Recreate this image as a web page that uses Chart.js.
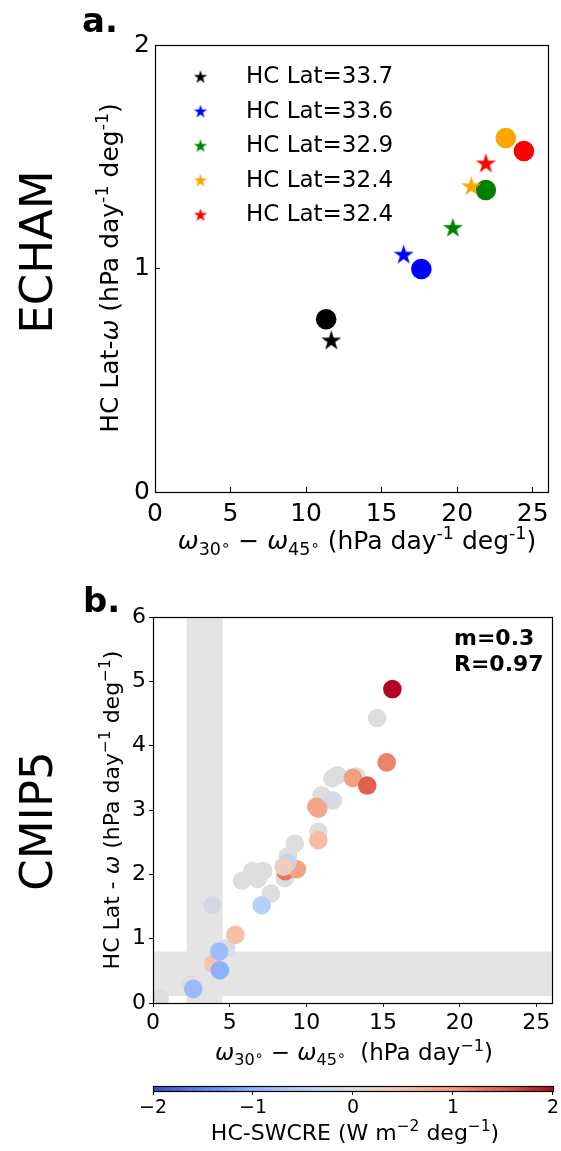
<!DOCTYPE html>
<html lang="en">
<head>
<meta charset="UTF-8">
<title>HC Lat vs omega gradient</title>
<script src="https://cdn.jsdelivr.net/npm/chart.js"></script>
<style>
  body { margin: 0; background: #fff; }
  #wrap { position: relative; width: 561px; height: 1151px; }
  canvas { position: absolute; left: 0; }
</style>
</head>
<body>
<div id="wrap">
  <canvas id="echamChart" width="561" height="570" style="top:0"></canvas>
  <canvas id="cmipChart" width="561" height="500" style="top:570px"></canvas>
  <canvas id="cbarChart" width="561" height="81" style="top:1070px"></canvas>
</div>
<script>
// ---- panel a (ECHAM) ----
const echamLabels = ['HC Lat=33.7', 'HC Lat=33.6', 'HC Lat=32.9', 'HC Lat=32.4', 'HC Lat=32.4'];
const echamColors = ['#000000', '#0000ff', '#008000', '#ffa500', '#ff0000'];
const echamStarX = [11.67, 16.46, 19.72, 20.94, 21.90];
const echamStarY = [0.676, 1.060, 1.180, 1.366, 1.468];
const echamCircleX = [11.33, 17.63, 21.90, 23.22, 24.42];
const echamCircleY = [0.773, 0.998, 1.351, 1.584, 1.526];
const xTicksA = [0, 5, 10, 15, 20, 25];
const yTicksA = [0, 1, 2];

// ---- panel b (CMIP5) ----
const cmipX = [14.62, 12.02, 11.70, 13.27, 10.99, 10.78, 9.25, 8.80, 8.59, 6.48, 7.19, 6.83, 5.80, 7.69, 4.77, 2.47, 0.43,
  11.72, 3.89, 15.61, 15.24, 13.03, 13.97, 10.65, 10.78, 10.78, 8.63, 9.38, 8.76, 8.52, 7.09, 5.37, 3.93, 4.32, 4.36, 2.62];
const cmipY = [4.43, 3.54, 3.49, 3.52, 3.23, 2.66, 2.48, 2.28, 1.94, 2.05, 2.05, 1.93, 1.90, 1.70, 0.85, 0.28, 0.07,
  3.15, 1.52, 4.88, 3.74, 3.50, 3.38, 3.05, 3.02, 2.53, 2.05, 2.08, 2.18, 2.12, 1.52, 1.06, 0.61, 0.80, 0.51, 0.22];
const cmipSwcre = [0, 0, 0, 0, 0, 0, 0, 0, 0, 0, 0, 0, 0, 0, 0, 0, 0,
  -0.1, -0.15, 2.0, 1.2, 0.95, 1.5, 0.9, 0.85, 0.6, 1.3, 0.9, -0.35, 0.3, -0.5, 0.55, 0.5, -0.8, -1.0, -0.85];
const bandX = [2.19, 4.54];   // grey vertical span
const bandY = [0.11, 0.80];   // grey horizontal span
const xTicksB = [0, 5, 10, 15, 20, 25];
const yTicksB = [0, 1, 2, 3, 4, 5, 6];
const statLines = ['m=0.3', 'R=0.97'];

// ---- colorbar ----
const cbTicks = [-2, -1, 0, 1, 2];
const coolwarmStops = [[59, 76, 192], [98, 130, 234], [141, 176, 254], [184, 208, 249], [221, 221, 221],
  [245, 196, 173], [244, 154, 123], [222, 96, 77], [180, 4, 38]];

const FAM = "'DejaVu Sans', sans-serif";
Chart.defaults.font.family = FAM;
Chart.defaults.color = '#000';

function coolwarm(v) {
  let t = Math.min(1, Math.max(0, (v + 2) / 4)) * (coolwarmStops.length - 1);
  const i = Math.min(coolwarmStops.length - 2, Math.floor(t));
  const f = t - i;
  const a = coolwarmStops[i], b = coolwarmStops[i + 1];
  return 'rgb(' + a.map((c, k) => Math.round(c + (b[k] - c) * f)).join(',') + ')';
}

function starCanvas(color, R) {
  const c = document.createElement('canvas');
  const s = Math.ceil(2 * R + 2);
  c.width = s; c.height = s;
  const g = c.getContext('2d');
  g.translate(s / 2, s / 2);
  g.beginPath();
  for (let k = 0; k < 10; k++) {
    const r = k % 2 ? R * 0.381966 : R;
    const a = -Math.PI / 2 + k * Math.PI / 5;
    g.lineTo(r * Math.cos(a), r * Math.sin(a));
  }
  g.closePath();
  g.fillStyle = color;
  g.fill();
  return c;
}
const bigStars = echamColors.map(c => starCanvas(c, 10.5));
const smallStars = echamColors.map(c => starCanvas(c, 7));

// text with italic / super / subscript pieces, centred on (x, y) baseline
function drawRich(ctx, parts, x, y, size, rotate) {
  const fontFor = p => {
    let s = size;
    if (p[1] === 'sup' || p[1] === 'sub') s = size * 0.7;
    if (p[1] === 'deg') s = size * 0.6;
    return (p[1] === 'i' ? 'italic ' : '') + s + 'px ' + FAM;
  };
  const shift = p => p[1] === 'sup' ? -size * 0.4 : p[1] === 'sub' ? size * 0.22 : p[1] === 'deg' ? size * 0.02 : 0;
  ctx.save();
  ctx.translate(x, y);
  if (rotate) ctx.rotate(-Math.PI / 2);
  ctx.fillStyle = '#000';
  ctx.textBaseline = 'alphabetic';
  ctx.textAlign = 'left';
  let total = 0;
  parts.forEach(p => { ctx.font = fontFor(p); total += ctx.measureText(p[0]).width; });
  let cx = -total / 2;
  parts.forEach(p => { ctx.font = fontFor(p); ctx.fillText(p[0], cx, shift(p)); cx += ctx.measureText(p[0]).width; });
  ctx.restore();
}

function plainText(ctx, text, x, y, font, align, rotate) {
  ctx.save();
  ctx.translate(x, y);
  if (rotate) ctx.rotate(-Math.PI / 2);
  ctx.font = font;
  ctx.fillStyle = '#000';
  ctx.textAlign = align;
  ctx.textBaseline = 'alphabetic';
  ctx.fillText(text, 0, 0);
  ctx.restore();
}

function frame(chart) {
  const a = chart.chartArea, ctx = chart.ctx;
  ctx.save();
  ctx.strokeStyle = '#000';
  ctx.lineWidth = 1.2;
  ctx.strokeRect(Math.round(a.left) + 0.5, Math.round(a.top) + 0.5, Math.round(a.right - a.left), Math.round(a.bottom - a.top));
  ctx.restore();
}

function tickAxis(ticksArr, min, max, size, tickLen, pad, fitFn) {
  return {
    type: 'linear', min: min, max: max,
    afterBuildTicks: s => { s.ticks = ticksArr.map(v => ({ value: v })); },
    afterFit: fitFn,
    grid: { drawOnChartArea: false, drawTicks: true, tickLength: tickLen, color: '#000', lineWidth: 1 },
    border: { display: false },
    ticks: { font: { size: size }, color: '#000', padding: pad, maxRotation: 0,
      callback: v => String(v).replace('-', '\u2212') }
  };
}

// ---------- panel a ----------
const echamDecor = {
  id: 'echamDecor',
  afterDraw(chart) {
    const ctx = chart.ctx;
    frame(chart);
    plainText(ctx, 'a.', 82, 32, 'bold 34px ' + FAM, 'left');
    plainText(ctx, 'ECHAM', 52, 252, '45px ' + FAM, 'center', true);
    drawRich(ctx, [['HC Lat-', ''], ['ω', 'i'], [' (hPa day', ''], ['-1', 'sup'], [' deg', ''], ['-1', 'sup'], [')', '']],
      118, 268, 25, true);
    drawRich(ctx, [['ω', 'i'], ['30', 'sub'], ['∘', 'deg'], [' − ', ''], ['ω', 'i'], ['45', 'sub'], ['∘', 'deg'],
      [' (hPa day', ''], ['-1', 'sup'], [' deg', ''], ['-1', 'sup'], [')', '']], 357, 549, 25, false);
  }
};

new Chart(document.getElementById('echamChart'), {
  type: 'scatter',
  data: {
    datasets: echamLabels.map((lab, i) => ({
      label: lab,
      data: [{ x: echamStarX[i], y: echamStarY[i] }],
      pointStyle: bigStars[i],
      pointRadius: 10
    })).concat([{
      label: 'circles',
      data: echamCircleX.map((x, i) => ({ x: x, y: echamCircleY[i] })),
      pointBackgroundColor: echamColors,
      pointBorderWidth: 0,
      pointRadius: 10.3
    }])
  },
  options: {
    responsive: false,
    animation: false,
    events: [],
    clip: false,
    layout: { padding: { top: 45, right: 2, left: 0, bottom: 0 } },
    scales: {
      x: tickAxis(xTicksA, 0, 26, 25, -5, 12, s => { s.height = 78; }),
      y: tickAxis(yTicksA, 0, 2, 25, -5, 10, s => { s.width = 155; })
    },
    plugins: {
      legend: {
        position: 'chartArea',
        align: 'start',
        title: { display: true, text: ' ', font: { size: 6 }, padding: { top: 47, bottom: 0 } },
        labels: {
          usePointStyle: true,
          pointStyleWidth: 68,
          padding: 11.5,
          font: { size: 23 },
          color: '#000',
          generateLabels: () => echamLabels.map((t, i) => ({
            text: t, pointStyle: smallStars[i], datasetIndex: i, hidden: false,
            fillStyle: echamColors[i], strokeStyle: echamColors[i], lineWidth: 0, fontColor: '#000'
          }))
        }
      },
      tooltip: { enabled: false }
    }
  },
  plugins: [echamDecor]
});

// ---------- panel b ----------
const cmipDecor = {
  id: 'cmipDecor',
  beforeDatasetsDraw(chart) {
    const ctx = chart.ctx, a = chart.chartArea;
    const xs = chart.scales.x, ys = chart.scales.y;
    ctx.save();
    ctx.beginPath();
    const x0 = xs.getPixelForValue(bandX[0]), x1 = xs.getPixelForValue(bandX[1]);
    ctx.rect(x0, a.top, x1 - x0, a.bottom - a.top);
    const y0 = ys.getPixelForValue(bandY[1]), y1 = ys.getPixelForValue(bandY[0]);
    ctx.rect(a.left, y0, a.right - a.left, y1 - y0);
    ctx.fillStyle = '#e4e4e4';
    ctx.fill('nonzero');
    ctx.restore();
  },
  afterDraw(chart) {
    const ctx = chart.ctx;
    frame(chart);
    plainText(ctx, 'b.', 83, 42, 'bold 34px ' + FAM, 'left');
    plainText(ctx, 'CMIP5', 52, 251, '45px ' + FAM, 'center', true);
    plainText(ctx, statLines[0], 454, 75, 'bold 22px ' + FAM, 'left');
    plainText(ctx, statLines[1], 454, 101, 'bold 22px ' + FAM, 'left');
    drawRich(ctx, [['HC Lat - ', ''], ['ω', 'i'], [' (hPa day', ''], ['−1', 'sup'], [' deg', ''], ['−1', 'sup'], [')', '']],
      119, 240, 22, true);
    drawRich(ctx, [['ω', 'i'], ['30', 'sub'], ['∘', 'deg'], [' − ', ''], ['ω', 'i'], ['45', 'sub'], ['∘', 'deg'],
      ['  (hPa day', ''], ['−1', 'sup'], [')', '']], 354, 490, 23, false);
  }
};

new Chart(document.getElementById('cmipChart'), {
  type: 'scatter',
  data: {
    datasets: [{
      label: 'CMIP5',
      data: cmipX.map((x, i) => ({ x: x, y: cmipY[i] })),
      pointBackgroundColor: cmipSwcre.map(coolwarm),
      pointBorderWidth: 0,
      pointRadius: 9.3,
      clip: 0
    }]
  },
  options: {
    responsive: false,
    animation: false,
    events: [],
    layout: { padding: { top: 47, right: 5, left: 0, bottom: 0 } },
    scales: {
      x: tickAxis(xTicksB, 0, 26, 22, 4, 3, s => { s.height = 67; }),
      y: tickAxis(yTicksB, 0, 6, 22, 4, 3, s => { s.width = 153; })
    },
    plugins: { legend: { display: false }, tooltip: { enabled: false } }
  },
  plugins: [cmipDecor]
});

// ---------- colorbar ----------
const cbarDecor = {
  id: 'cbarDecor',
  beforeDatasetsDraw(chart) {
    const ctx = chart.ctx, a = chart.chartArea;
    const g = ctx.createLinearGradient(a.left, 0, a.right, 0);
    coolwarmStops.forEach((c, i) => g.addColorStop(i / (coolwarmStops.length - 1), 'rgb(' + c.join(',') + ')'));
    ctx.save();
    ctx.fillStyle = g;
    ctx.fillRect(a.left, a.top, a.right - a.left, a.bottom - a.top);
    ctx.restore();
  },
  afterDraw(chart) {
    frame(chart);
    drawRich(chart.ctx, [['HC-SWCRE (W m', ''], ['−2', 'sup'], [' deg', ''], ['−1', 'sup'], [')', '']], 355, 70, 22, false);
  }
};

new Chart(document.getElementById('cbarChart'), {
  type: 'scatter',
  data: { datasets: [] },
  options: {
    responsive: false,
    animation: false,
    events: [],
    layout: { padding: { top: 16, right: 4, left: 153, bottom: 0 } },
    scales: {
      x: tickAxis(cbTicks, -2, 2, 19, 4, 2, s => { s.height = 60; }),
      y: { display: false, min: 0, max: 1 }
    },
    plugins: { legend: { display: false }, tooltip: { enabled: false } }
  },
  plugins: [cbarDecor]
});
</script>
</body>
</html>
